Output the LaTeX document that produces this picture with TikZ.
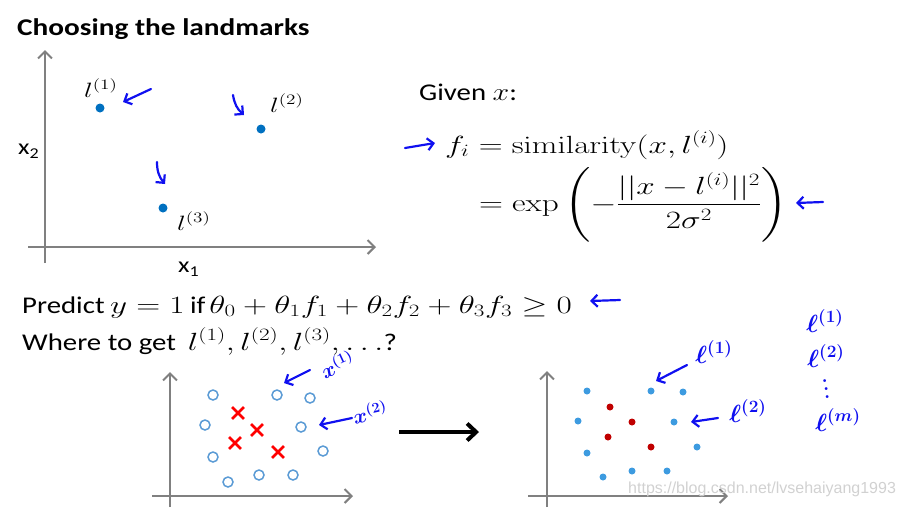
\documentclass[tikz,border=0pt]{standalone}
\usepackage{amsmath}
\usepackage[no-math]{fontspec}
\newfontfamily\slidefont{Carlito}
\newfontfamily\wmfont{Liberation Sans}
\usetikzlibrary{arrows.meta,shapes.misc}
\definecolor{dotblue}{HTML}{0070C0}
\definecolor{ringblue}{HTML}{5B9BD5}
\definecolor{ptblue}{HTML}{3D9BE0}
\definecolor{inkblue}{HTML}{1010F0}
\definecolor{axisgray}{HTML}{808080}
\definecolor{ptred}{HTML}{C00000}
\newcommand\hstretch[1]{\scalebox{1.333}[1]{#1}}
\newcommand\tstretch[1]{\scalebox{1.2}[1]{#1}}
\begin{document}
\begin{tikzpicture}[x=1pt,y=-1pt,
  txt/.style={inner sep=0pt, anchor=base west},
  sfont/.style={font=\slidefont\fontsize{24}{28}\selectfont},
  mfont/.style={font=\fontsize{24}{28}\selectfont},
  axisline/.style={draw=axisgray, line width=2pt, -{Straight Barb[length=7pt,width=14pt]}},
  ink/.style={draw=inkblue, line width=2.2pt, line cap=round, -{Straight Barb[length=6pt,width=12pt]}},
  inktext/.style={text=inkblue, inner sep=0pt, font=\fontsize{24}{28}\selectfont},
  landmark/.style={circle, fill=dotblue, inner sep=0pt, minimum size=9pt},
  ring/.style={circle, draw=ringblue, line width=1.5pt, inner sep=0pt, minimum size=10pt},
  xmark/.style={cross out, draw=red, line width=2.8pt, inner sep=0pt, minimum size=9pt},
  bdot/.style={circle, fill=ptblue, inner sep=0pt, minimum size=7pt},
  rdot/.style={circle, fill=ptred, inner sep=0pt, minimum size=7pt},
]
\useasboundingbox (0,0) rectangle (904,507);

% title
\node[txt, font=\slidefont\bfseries\fontsize{24}{28}\selectfont] (title) at (17,35) {\scalebox{1.22}[1]{Choosing the landmarks}};

% top-left plot
\coordinate (tlyb) at (45,263); \coordinate (tlyt) at (45,50);
\coordinate (tlxl) at (28,247); \coordinate (tlxr) at (376,247);
\draw[axisline] (tlyb) -- (tlyt);
\draw[axisline] (tlxl) -- (tlxr);
\node[txt, font=\slidefont\fontsize{22}{26}\selectfont] (x2lab) at (18,154) {\tstretch{x\raisebox{-4pt}{\fontsize{15}{18}\selectfont 2}}};
\node[txt, font=\slidefont\fontsize{22}{26}\selectfont] (x1lab) at (178,272) {\tstretch{x\raisebox{-4pt}{\fontsize{15}{18}\selectfont 1}}};

\node[landmark] (L1) at (100,108) {};
\node[landmark] (L2) at (261,129) {};
\node[landmark] (L3) at (163,208) {};
\node[txt, font=\fontsize{20}{24}\selectfont] (L1t) at (84,97) {\hstretch{$l^{(1)}$}};
\node[txt, font=\fontsize{20}{24}\selectfont] (L2t) at (270,112) {\hstretch{$l^{(2)}$}};
\node[txt, font=\fontsize{20}{24}\selectfont] (L3t) at (177,230) {\hstretch{$l^{(3)}$}};

\coordinate (i1s) at (151,89); \coordinate (i1e) at (123,102);
\coordinate (i2s) at (233,95); \coordinate (i2e) at (244,115);
\coordinate (i3s) at (157,162); \coordinate (i3e) at (165,184);
\draw[ink] (i1s) -- (i1e);
\draw[ink] (i2s) to[bend right=20] (i2e);
\draw[ink] (i3s) to[bend right=20] (i3e);

% equations
\node[txt, sfont] (given) at (419,100) {\tstretch{Given {\fontsize{24}{28}\selectfont$x$}:}};
\node[txt, mfont] (fi) at (445,153) {\hstretch{$f_i = \mathrm{similarity}(x,l^{(i)})$}};
\node[txt, mfont] (ex) at (479,211) {\hstretch{$\displaystyle = \exp\left(-\frac{||x-l^{(i)}||^2}{2\sigma^2}\right)$}};
\coordinate (e1s) at (405,148); \coordinate (e1e) at (435,143);
\coordinate (e2s) at (823,202); \coordinate (e2e) at (796,203);
\draw[ink] (e1s) -- (e1e);
\draw[ink] (e2s) -- (e2e);

% predict
\node[txt, sfont] (pred) at (22,313) {\tstretch{Predict} \hstretch{\fontsize{24}{28}\selectfont$y=1$} \tstretch{if}\hspace{4pt}\hstretch{\fontsize{23}{28}\selectfont$\theta_0+\theta_1f_1+\theta_2f_2+\theta_3f_3\geq 0$}};
\coordinate (e3s) at (620,300); \coordinate (e3e) at (590,301);
\draw[ink] (e3s) -- (e3e);
\node[txt, sfont] (where) at (22,350) {\tstretch{Where to get}\hspace{12pt}\hstretch{\fontsize{24}{28}\selectfont$l^{(1)},l^{(2)},l^{(3)},\ldots$}\tstretch{?}};

% bottom-left plot
\coordinate (blyb) at (170,507); \coordinate (blyt) at (170,372);
\coordinate (blxl) at (152,496); \coordinate (blxr) at (353,496);
\draw[axisline] (blyb) -- (blyt);
\draw[axisline] (blxl) -- (blxr);
\node[ring] (r1) at (213,395) {};
\node[ring] (r2) at (277,395) {};
\node[ring] (r3) at (310,398) {};
\node[ring] (r4) at (205,425) {};
\node[ring] (r5) at (301,427) {};
\node[ring] (r6) at (323,451) {};
\node[ring] (r7) at (213,457) {};
\node[ring] (r8) at (228,482) {};
\node[ring] (r9) at (259,475) {};
\node[ring] (r10) at (293,475) {};
\node[xmark] (c1) at (238,413) {};
\node[xmark] (c2) at (257,430) {};
\node[xmark] (c3) at (235,443) {};
\node[xmark] (c4) at (278,452) {};
\coordinate (x1s) at (310,370); \coordinate (x1e) at (284,383);
\coordinate (x2s) at (352,418); \coordinate (x2e) at (319,425);
\draw[ink] (x1s) -- (x1e);
\draw[ink] (x2s) -- (x2e);
\node[inktext, rotate=25, font=\fontsize{20}{24}\selectfont] (x1t) at (337,364) {$\boldsymbol{x}^{\boldsymbol{(1)}}$};
\node[inktext, rotate=12, font=\fontsize{20}{24}\selectfont] (x2t) at (370,412) {$\boldsymbol{x}^{\boldsymbol{(2)}}$};

% big arrow
\coordinate (bas) at (399,432); \coordinate (bae) at (479,432);
\draw[line width=4pt, -{Straight Barb[length=9pt,width=17pt]}] (bas) -- (bae);

% bottom-right plot
\coordinate (bryb) at (547,507); \coordinate (bryt) at (547,371);
\coordinate (brxl) at (528,496); \coordinate (brxr) at (728,496);
\draw[axisline] (bryb) -- (bryt);
\draw[axisline] (brxl) -- (brxr);
\node[bdot] (d1) at (587,391) {};
\node[bdot] (d2) at (651,391) {};
\node[bdot] (d3) at (683,392) {};
\node[bdot] (d4) at (578,421) {};
\node[bdot] (d5) at (674,422) {};
\node[bdot] (d6) at (697,447) {};
\node[bdot] (d7) at (587,453) {};
\node[bdot] (d8) at (603,477) {};
\node[bdot] (d9) at (632,471) {};
\node[bdot] (d10) at (667,471) {};
\node[rdot] (q1) at (610,407) {};
\node[rdot] (q2) at (632,422) {};
\node[rdot] (q3) at (608,437) {};
\node[rdot] (q4) at (651,447) {};
\coordinate (y1s) at (687,365); \coordinate (y1e) at (656,381);
\coordinate (y2s) at (718,418); \coordinate (y2e) at (691,422);
\draw[ink] (y1s) -- (y1e);
\draw[ink] (y2s) -- (y2e);
\node[inktext] (l1t) at (714,352) {$\boldsymbol{\ell}^{\boldsymbol{(1)}}$};
\node[inktext] (l2t) at (748,411) {$\boldsymbol{\ell}^{\boldsymbol{(2)}}$};

% right column
\node[inktext] (m1) at (825,321) {$\boldsymbol{\ell}^{\boldsymbol{(1)}}$};
\node[inktext] (m2) at (826,356) {$\boldsymbol{\ell}^{\boldsymbol{(2)}}$};
\node[inktext, font=\bfseries\fontsize{20}{24}\selectfont] (m3) at (826,389) {\vbox{\baselineskip=8pt\lineskiplimit=0pt\hbox{.}\hbox{\kern1.5pt.}\hbox{\kern2.5pt.}}};
\node[inktext] (m4) at (838,420) {$\boldsymbol{\ell}^{\boldsymbol{(m)}}$};

% watermark
\node[txt, font=\wmfont\fontsize{16}{19}\selectfont, text=black!18] (wm) at (628,493) {https://blog.csdn.net/lvsehaiyang1993};
\end{tikzpicture}
\end{document}
